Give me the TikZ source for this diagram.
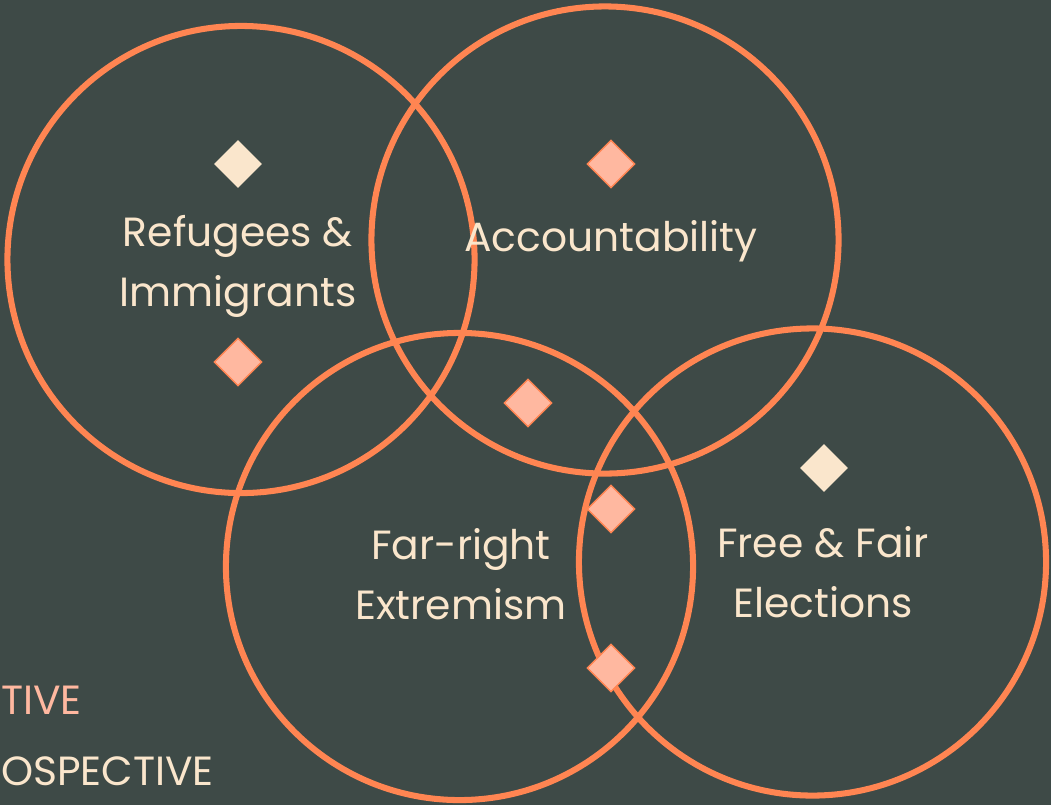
\documentclass[tikz,border=0pt]{standalone}
\usepackage{fontspec}
\setmainfont{Poppins}
\usepackage{xcolor}
\usetikzlibrary{shapes.geometric, positioning}

\definecolor{slate}{HTML}{3E4A47}
\definecolor{coral}{HTML}{FF8552}
\definecolor{cream}{HTML}{FAE6CC}
\definecolor{salmon}{HTML}{FFB8A0}

\begin{document}
\begin{tikzpicture}[
    x=0.025cm, y=-0.025cm,
    ring/.style={circle, draw=coral, line width=4.3pt, minimum size=11.675cm, inner sep=0pt},
    topic/.style={text=cream, font=\fontsize{29}{42.7}\selectfont, align=center},
    gem/.style={diamond, minimum width=1.2cm, minimum height=1.2cm, inner sep=0pt, aspect=1},
    creamgem/.style={gem, fill=cream},
    salmongem/.style={gem, fill=salmon, draw=coral, line width=1pt},
    legend/.style={anchor=west, font=\fontsize{29}{30}\selectfont, inner sep=0pt}
]
    % Background
    \fill[slate] (0,0) rectangle (1051,805);
    \useasboundingbox (0,0) rectangle (1051,805);

    % Circles
    \node[ring] (refugees) at (241,259.5) {};
    \node[ring] (account) at (605,240) {};
    \node[ring] (farright) at (459.5,566.5) {};
    \node[ring] (elections) at (812.5,562) {};

    % Diamonds
    \node[creamgem] (d1) at (238,164) {};
    \node[salmongem] (d2) at (611,164) {};
    \node[salmongem] (d3) at (238,362) {};
    \node[salmongem] (d4) at (528,403) {};
    \node[creamgem] (d5) at (824,468) {};
    \node[salmongem] (d6) at (611,509) {};
    \node[salmongem] (d7) at (611,668) {};

    % Labels
    \node[topic] (refugeestxt) at (238,266) {Refugees \&\\Immigrants};
    \node[topic] (accounttxt) at (611,241) {Accountability};
    \node[topic] (farrighttxt) at (461,574) {Far-right\\Extremism};
    \node[topic] (electionstxt) at (823,572) {Free \& Fair\\Elections};

    % Legend (cut off)
    \node[legend, text=salmon] (leg1) at (1,700) {TIVE};
    \node[legend, text=cream] (leg2) at (1,771) {OSPECTIVE};
\end{tikzpicture}
\end{document}
